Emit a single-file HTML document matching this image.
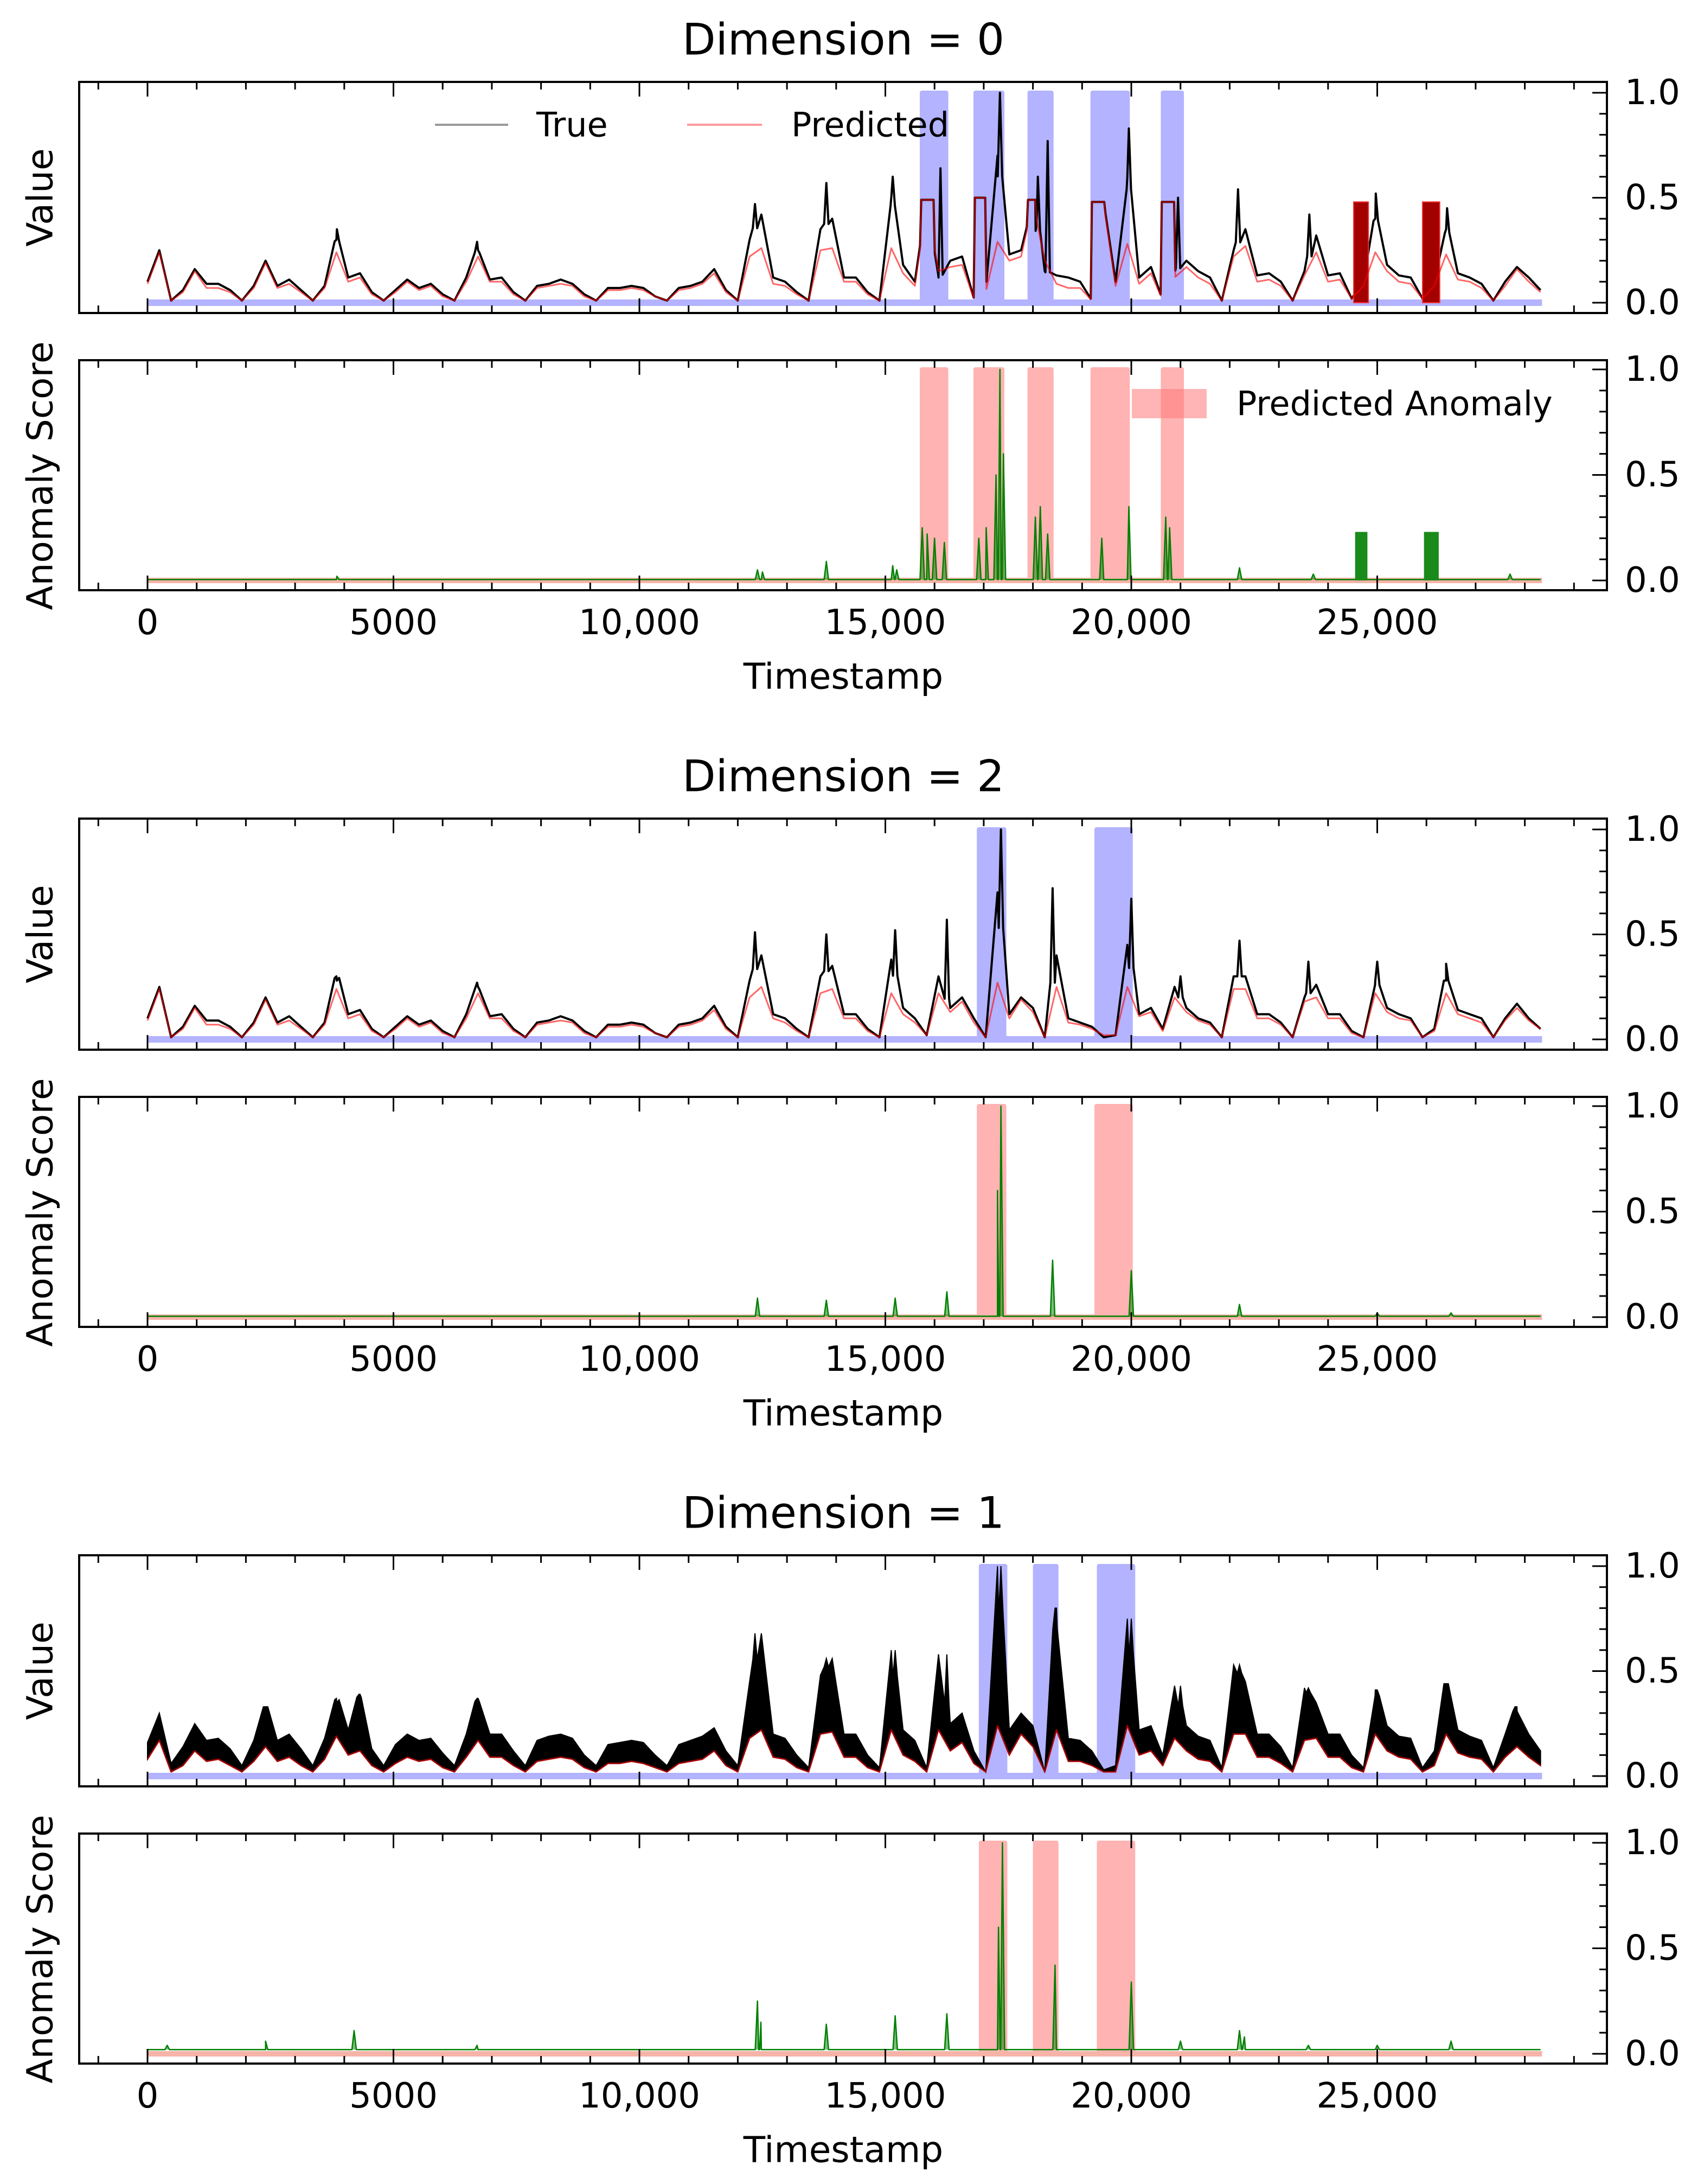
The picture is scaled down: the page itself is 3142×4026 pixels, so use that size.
<!DOCTYPE html>
<html><head><meta charset="utf-8"><title>Anomaly detection chart</title>
<style>
html,body{margin:0;padding:0;background:#fff;}
svg{display:block;font-family:"DejaVu Sans","Liberation Sans",sans-serif;}
</style></head>
<body>
<svg id="chart" xmlns="http://www.w3.org/2000/svg" width="3142" height="4026" viewBox="0 0 3142 4026">
<rect x="0" y="0" width="3142" height="4026" fill="#ffffff"/>
</svg>
<script>
// ---------- data (timestamp step between samples) ----------
const STEP = 240;
const xTicks = [0, 5000, 10000, 15000, 20000, 25000];
const xTickLabels = ["0", "5000", "10,000", "15,000", "20,000", "25,000"];
const yTicks = [0, 0.5, 1.0];
const yTickLabels = ["0.0", "0.5", "1.0"];
const dimTitles = ["Dimension = 0", "Dimension = 2", "Dimension = 1"];

const d0True = [0.10,0.25,0.01,0.06,0.16,0.09,0.09,0.06,0.01,0.08,0.20,0.08,0.11,0.06,0.01,0.08,0.30,0.12,0.14,0.05,0.01,0.06,0.11,0.07,0.09,0.04,0.01,0.12,0.25,0.11,0.12,0.05,0.01,0.08,0.09,0.11,0.09,0.04,0.01,0.07,0.07,0.08,0.07,0.03,0.01,0.07,0.08,0.10,0.16,0.06,0.01,0.30,0.42,0.12,0.10,0.05,0.01,0.35,0.40,0.12,0.12,0.05,0.01,0.50,0.18,0.10,0.49,0.12,0.20,0.22,0.02,0.06,0.70,0.23,0.25,0.48,0.15,0.13,0.12,0.10,0.01,0.48,0.10,0.60,0.12,0.17,0.01,0.15,0.20,0.15,0.12,0.01,0.25,0.35,0.13,0.14,0.10,0.01,0.15,0.32,0.13,0.14,0.02,0.10,0.40,0.18,0.13,0.12,0.02,0.10,0.35,0.14,0.12,0.09,0.01,0.10,0.17,0.12,0.06];
const d0Pred = [0.09,0.24,0.01,0.05,0.15,0.07,0.07,0.05,0.01,0.07,0.19,0.07,0.09,0.05,0.01,0.07,0.24,0.10,0.12,0.04,0.01,0.05,0.10,0.06,0.08,0.03,0.01,0.10,0.22,0.10,0.10,0.04,0.01,0.07,0.08,0.09,0.08,0.03,0.01,0.06,0.06,0.07,0.06,0.03,0.01,0.06,0.07,0.09,0.14,0.05,0.01,0.22,0.26,0.09,0.08,0.04,0.01,0.25,0.26,0.10,0.10,0.04,0.01,0.26,0.14,0.08,0.48,0.15,0.17,0.18,0.02,0.05,0.29,0.20,0.22,0.48,0.20,0.09,0.07,0.07,0.01,0.47,0.08,0.28,0.09,0.14,0.01,0.12,0.17,0.12,0.09,0.01,0.22,0.27,0.10,0.11,0.08,0.01,0.13,0.24,0.10,0.11,0.02,0.08,0.24,0.15,0.10,0.09,0.02,0.08,0.23,0.11,0.10,0.07,0.01,0.08,0.16,0.10,0.05];
const d0Spikes = [[3850,0.35],[6700,0.29],[12350,0.47],[13800,0.57],[15150,0.60],[16120,0.64],[17330,1.0],[18100,0.60],[18300,0.77],[19950,0.83],[20950,0.50],[22170,0.54],[23620,0.42],[24970,0.52],[26420,0.45]];
const d0Flats = [[15730,15980,0.49],[16820,17030,0.50],[17900,18050,0.49],[19200,19450,0.48],[20620,20870,0.48]];
const d0Bursts = [[24520,24820,0.48],[25920,26270,0.48]];
const d0Anoms = [[15700,16280],[16790,17420],[17890,18420],[19170,19970],[20600,21070]];
const d0Score = [[12400,0.05],[12500,0.04],[13800,0.09],[15150,0.07],[15230,0.05],[15750,0.25],[15850,0.22],[16000,0.20],[16200,0.18],[16900,0.20],[17050,0.25],[17250,0.50],[17330,1.0],[17400,0.60],[18050,0.30],[18150,0.35],[18300,0.22],[19400,0.20],[19950,0.35],[20700,0.30],[20780,0.25],[22200,0.06],[23700,0.03],[27700,0.03],[3850,0.02]];
const d0ScoreBursts = [[24550,24800,0.23],[25950,26250,0.23]];

const d2True = [0.10,0.25,0.01,0.06,0.16,0.09,0.09,0.06,0.01,0.08,0.20,0.08,0.11,0.06,0.01,0.08,0.30,0.12,0.14,0.05,0.01,0.06,0.11,0.07,0.09,0.04,0.01,0.12,0.25,0.11,0.12,0.05,0.01,0.08,0.09,0.11,0.09,0.04,0.01,0.07,0.07,0.08,0.07,0.03,0.01,0.07,0.08,0.10,0.16,0.06,0.01,0.28,0.40,0.12,0.10,0.05,0.01,0.30,0.35,0.12,0.12,0.05,0.01,0.38,0.15,0.10,0.02,0.30,0.15,0.20,0.10,0.01,0.70,0.12,0.20,0.15,0.01,0.40,0.10,0.08,0.06,0.01,0.02,0.45,0.12,0.15,0.05,0.25,0.15,0.10,0.08,0.01,0.30,0.30,0.12,0.12,0.08,0.01,0.20,0.26,0.12,0.12,0.04,0.01,0.28,0.15,0.12,0.10,0.01,0.05,0.28,0.14,0.12,0.10,0.01,0.10,0.17,0.10,0.05];
const d2Pred = [0.09,0.24,0.01,0.05,0.15,0.07,0.07,0.05,0.01,0.07,0.19,0.07,0.09,0.05,0.01,0.07,0.24,0.10,0.12,0.04,0.01,0.05,0.10,0.06,0.08,0.03,0.01,0.10,0.22,0.10,0.10,0.04,0.01,0.07,0.08,0.09,0.08,0.03,0.01,0.06,0.06,0.07,0.06,0.03,0.01,0.06,0.07,0.09,0.14,0.05,0.01,0.20,0.25,0.10,0.08,0.04,0.01,0.22,0.24,0.10,0.10,0.04,0.01,0.22,0.12,0.08,0.02,0.22,0.13,0.18,0.08,0.01,0.27,0.10,0.19,0.13,0.01,0.25,0.08,0.07,0.05,0.02,0.02,0.25,0.11,0.13,0.04,0.20,0.13,0.09,0.07,0.01,0.24,0.24,0.10,0.10,0.07,0.01,0.18,0.20,0.10,0.10,0.03,0.01,0.22,0.13,0.10,0.09,0.01,0.04,0.22,0.12,0.10,0.08,0.01,0.09,0.15,0.09,0.05];
const d2Spikes = [[3850,0.28],[6700,0.27],[12350,0.51],[13800,0.50],[15200,0.52],[16250,0.57],[17350,1.0],[18400,0.72],[20000,0.67],[21000,0.30],[22200,0.47],[23600,0.37],[25000,0.37],[26400,0.36]];
const d2Anoms = [[16860,17460],[19250,20030]];
const d2Score = [[12400,0.09],[13800,0.08],[15200,0.09],[16250,0.12],[17280,0.60],[17350,1.0],[18400,0.27],[20000,0.22],[22200,0.06],[25000,0.02],[26500,0.02]];

const d1High = [0.16,0.30,0.06,0.14,0.25,0.17,0.18,0.13,0.05,0.17,0.33,0.17,0.20,0.13,0.05,0.18,0.37,0.22,0.39,0.13,0.05,0.15,0.20,0.17,0.18,0.11,0.05,0.20,0.37,0.20,0.20,0.12,0.05,0.17,0.19,0.20,0.18,0.10,0.05,0.15,0.16,0.17,0.16,0.10,0.05,0.15,0.17,0.19,0.23,0.12,0.05,0.45,0.68,0.20,0.18,0.10,0.04,0.48,0.56,0.20,0.20,0.10,0.04,0.60,0.22,0.17,0.04,0.58,0.25,0.30,0.12,0.02,1.0,0.22,0.30,0.24,0.02,0.80,0.18,0.17,0.12,0.03,0.05,0.75,0.22,0.24,0.10,0.43,0.24,0.19,0.17,0.04,0.53,0.45,0.20,0.20,0.14,0.04,0.42,0.35,0.20,0.20,0.10,0.04,0.41,0.24,0.19,0.18,0.04,0.12,0.44,0.22,0.19,0.17,0.04,0.20,0.33,0.20,0.12];
const d1Pred = [0.08,0.17,0.02,0.05,0.12,0.07,0.08,0.05,0.02,0.07,0.14,0.07,0.09,0.05,0.02,0.08,0.19,0.10,0.12,0.05,0.02,0.06,0.09,0.07,0.08,0.04,0.02,0.09,0.17,0.09,0.09,0.05,0.02,0.07,0.08,0.09,0.08,0.04,0.02,0.06,0.06,0.07,0.06,0.04,0.02,0.06,0.07,0.08,0.12,0.05,0.02,0.18,0.22,0.09,0.08,0.04,0.02,0.20,0.21,0.09,0.09,0.04,0.02,0.22,0.10,0.07,0.02,0.22,0.12,0.16,0.06,0.02,0.24,0.10,0.20,0.14,0.02,0.22,0.07,0.07,0.05,0.02,0.02,0.24,0.10,0.12,0.05,0.18,0.12,0.08,0.07,0.02,0.20,0.20,0.09,0.09,0.06,0.02,0.17,0.18,0.09,0.09,0.04,0.02,0.20,0.12,0.09,0.08,0.02,0.05,0.20,0.11,0.09,0.08,0.02,0.09,0.14,0.09,0.05];
const d1Spikes = [[2400,0.33],[3850,0.35],[4300,0.39],[6700,0.37],[12350,0.68],[13800,0.56],[15200,0.60],[16250,0.58],[17350,1.0],[18450,0.80],[20000,0.75],[21000,0.43],[22200,0.53],[23600,0.42],[25000,0.41],[26400,0.44],[27800,0.33]];
const d1Anoms = [[16900,17480],[18000,18520],[19300,20080]];
const d1Score = [[400,0.04],[2400,0.06],[4200,0.11],[6700,0.04],[12400,0.25],[12470,0.15],[13800,0.14],[15200,0.18],[16250,0.19],[17300,0.60],[17380,1.0],[18450,0.42],[20000,0.34],[21000,0.06],[22200,0.11],[22300,0.08],[23600,0.04],[25000,0.04],[26500,0.06]];

const scoreFloor = [0.004, 0.004, 0.02];
const dataEnd = 28350;

// ---------- layout ----------
const NS = "http://www.w3.org/2000/svg";
const svg = document.getElementById("chart");
const AX_L = 146, AX_R = 2963;
function X(t) { return 272 + 0.0907 * t; }
function mk(parent, tag, attrs, name) {
  const el = document.createElementNS(NS, tag);
  for (const k in attrs) el.setAttribute(k, attrs[k]);
  
  
  parent.appendChild(el);
  return el;
}
function txt(parent, x, y, s, size, anchor, name, extra) {
  const el = mk(parent, "text", Object.assign({x: x, y: y, "font-size": size, "text-anchor": anchor, "dominant-baseline": "central", fill: "#000"}, extra || {}), name);
  el.textContent = s;
  return el;
}
function interp(arr, t) {
  const f = t / STEP, i = Math.floor(f);
  if (i >= arr.length - 1) return arr[arr.length - 1];
  return arr[i] + (arr[i + 1] - arr[i]) * (f - i);
}
function seriesPts(base, spikes, flats) {
  let pts = base.map((v, i) => [i * STEP, v]);
  (flats || []).forEach(f => {
    pts = pts.filter(p => p[0] < f[0] - 30 || p[0] > f[1] + 30);
  });
  (flats || []).forEach(f => {
    pts.push([f[0] - 25, interp(base, f[0] - 25)], [f[0], f[2]], [f[1], f[2]], [f[1] + 25, interp(base, f[1] + 25)]);
  });
  (spikes || []).forEach(s => {
    const b = interp(base, s[0]);
    pts.push([s[0] - 45, b], [s[0], s[1]], [s[0] + 45, b]);
  });
  pts.sort((a, b) => a[0] - b[0]);
  return pts;
}
function pathD(pts, Y) {
  return pts.map((p, i) => (i ? "L" : "M") + X(p[0]).toFixed(1) + " " + Y(p[1]).toFixed(1)).join(" ");
}

function axesFrame(g, top, bot, y0, y1, showXLabels, name) {
  const Y = v => y0 + (y1 - y0) * v;
  for (let t = -1000; t <= 29000; t += 1000) {
    const major = t % 5000 === 0 && t >= 0 && t <= 25000;
    const len = major ? 27 : 14;
    mk(g, "line", {x1: X(t), x2: X(t), y1: bot, y2: bot - len, stroke: "#000", "stroke-width": 3}, name + "-x-tick-bottom");
    mk(g, "line", {x1: X(t), x2: X(t), y1: top, y2: top + len, stroke: "#000", "stroke-width": 3}, name + "-x-tick-top");
  }
  for (let k = 0; k <= 10; k++) {
    const v = k / 10;
    const major = k % 5 === 0;
    mk(g, "line", {x1: AX_R, x2: AX_R - (major ? 27 : 14), y1: Y(v), y2: Y(v), stroke: "#000", "stroke-width": 3}, name + "-y-tick");
  }
  yTicks.forEach((v, i) => {
    txt(g, 2996, Y(v), yTickLabels[i], 64, "start", name + "-y-tick-label");
  });
  mk(g, "rect", {x: AX_L, y: top, width: AX_R - AX_L, height: bot - top, fill: "none", stroke: "#000", "stroke-width": 4}, name + "-frame");
  return Y;
}

function drawGroup(gi, cfg) {
  const O = gi * 1358;
  const g = mk(svg, "g", {}, "dimension-" + cfg.dim + "-group");
  txt(g, 1555, 73 + O, dimTitles[gi], 80, "middle", "dimension-title");

  // ----- value panel -----
  const vp = mk(g, "g", {}, "value-panel");
  const Yv = v => (558 + O) + ((171 + O) - (558 + O)) * v;
  cfg.anoms.forEach(a => {
    mk(vp, "rect", {x: X(a[0]), y: Yv(1.0) - 4, width: X(a[1]) - X(a[0]), height: Yv(0) - Yv(1.0) + 4, fill: "#b3b3ff", rx: 4}, "true-anomaly-band");
  });
  mk(vp, "line", {x1: X(0), x2: X(dataEnd), y1: Yv(0), y2: Yv(0), stroke: "#b3b3ff", "stroke-width": 12}, "true-anomaly-baseline");
  if (cfg.high) {
    const hp = seriesPts(cfg.high, cfg.spikes);
    const lp = cfg.pred.map((v, i) => [i * STEP, v]).reverse();
    mk(vp, "path", {d: pathD(hp, Yv) + " " + lp.map(p => "L" + X(p[0]).toFixed(1) + " " + Yv(p[1]).toFixed(1)).join(" ") + " Z", fill: "#000", stroke: "#000", "stroke-width": 2}, "true-series-band");
  } else {
    mk(vp, "path", {d: pathD(seriesPts(cfg.trueV, cfg.spikes, cfg.flats), Yv), fill: "none", stroke: "#000", "stroke-width": 4, "stroke-linejoin": "round"}, "true-series-line");
  }
  (cfg.bursts || []).forEach(b => {
    mk(vp, "rect", {x: X(b[0]), y: Yv(b[2]), width: X(b[1]) - X(b[0]), height: Yv(0) - Yv(b[2]), fill: "#a30000", stroke: "#e33", "stroke-width": 2}, "predicted-burst");
  });
  mk(vp, "path", {d: pathD(seriesPts(cfg.pred, null, cfg.flats), Yv), fill: "none", stroke: "rgba(255,0,0,0.6)", "stroke-width": 3, "stroke-linejoin": "round"}, "predicted-series-line");
  axesFrame(vp, 151 + O, 577 + O, 558 + O, 171 + O, false, "value-axis");
  txt(vp, 74, 364 + O, "Value", 66, "middle", "value-y-axis-title", {transform: "rotate(-90 74 " + (364 + O) + ")"});

  // ----- score panel -----
  const sp = mk(g, "g", {}, "score-panel");
  const Ys = v => (1070 + O) + ((681 + O) - (1070 + O)) * v;
  cfg.anoms.forEach(a => {
    mk(sp, "rect", {x: X(a[0]), y: Ys(1.0) - 4, width: X(a[1]) - X(a[0]), height: Ys(0) - Ys(1.0) + 4, fill: "#ffb3b3", rx: 4}, "predicted-anomaly-band");
  });
  mk(sp, "line", {x1: X(0), x2: X(dataEnd), y1: Ys(0), y2: Ys(0), stroke: "#f6b3a8", "stroke-width": 10}, "predicted-anomaly-baseline");
  const base = [];
  for (let t = 0; t <= dataEnd; t += STEP) base.push(cfg.floor);
  const sPts = seriesPts(base, cfg.score);
  mk(sp, "path", {d: pathD(sPts, Ys), fill: "rgba(0,128,0,0.5)", stroke: "#008000", "stroke-width": 2.5, "stroke-linejoin": "round"}, "anomaly-score-line");
  (cfg.scoreBursts || []).forEach(b => {
    mk(sp, "rect", {x: X(b[0]), y: Ys(b[2]), width: X(b[1]) - X(b[0]), height: Ys(0) - Ys(b[2]), fill: "#1a8a1a"}, "anomaly-score-burst");
  });
  axesFrame(sp, 664 + O, 1088 + O, 1070 + O, 681 + O, true, "score-axis");
  txt(sp, 74, 877 + O, "Anomaly Score", 66, "middle", "score-y-axis-title", {transform: "rotate(-90 74 " + (877 + O) + ")"});
  xTicks.forEach((t, i) => {
    txt(sp, X(t), 1148 + O, xTickLabels[i], 64, "middle", "x-tick-label");
  });
  txt(sp, 1555, 1247 + O, "Timestamp", 66, "middle", "x-axis-title");
  return g;
}

drawGroup(0, {dim: 0, trueV: d0True, pred: d0Pred, spikes: d0Spikes, flats: d0Flats, bursts: d0Bursts, anoms: d0Anoms, score: d0Score, scoreBursts: d0ScoreBursts, floor: scoreFloor[0]});
drawGroup(1, {dim: 2, trueV: d2True, pred: d2Pred, spikes: d2Spikes, anoms: d2Anoms, score: d2Score, floor: scoreFloor[1]});
drawGroup(2, {dim: 1, high: d1High, pred: d1Pred, spikes: d1Spikes, anoms: d1Anoms, score: d1Score, floor: scoreFloor[2]});

// ---------- legends (dimension 0) ----------
const lg = mk(svg, "g", {}, "value-legend");
mk(lg, "line", {x1: 802, x2: 937, y1: 230, y2: 230, stroke: "#999", "stroke-width": 4}, "legend-true-swatch");
txt(lg, 989, 230, "True", 62, "start", "legend-true-label");
mk(lg, "line", {x1: 1267, x2: 1405, y1: 230, y2: 230, stroke: "#ff9a9a", "stroke-width": 4}, "legend-predicted-swatch");
txt(lg, 1459, 230, "Predicted", 62, "start", "legend-predicted-label");
const lg2 = mk(svg, "g", {}, "score-legend");
mk(lg2, "rect", {x: 2087, y: 717, width: 138, height: 54, fill: "rgba(255,120,120,0.55)"}, "legend-predicted-anomaly-swatch");
txt(lg2, 2280, 744, "Predicted Anomaly", 62, "start", "legend-predicted-anomaly-label");
</script>
</body></html>
